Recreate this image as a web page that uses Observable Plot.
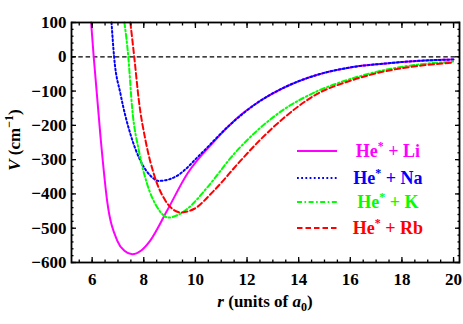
<!DOCTYPE html>
<html><head><meta charset="utf-8">
<script src="https://cdn.jsdelivr.net/npm/d3@7"></script>
<script src="https://cdn.jsdelivr.net/npm/@observablehq/plot@0.6"></script>
<style>
body{margin:0;background:#fff}
#chart{position:relative;width:463px;height:324px}
#chart svg{position:absolute;left:0;top:0}
</style>
</head><body><div id="chart"></div>
<script>
// ---- data ----
const seriesNames = ["He* + Li", "He* + Na", "He* + K", "He* + Rb"];
const seriesColors = ["#ff00ff", "#0000ff", "#00ff00", "#ff0000"];
const seriesDash = [null, "1.8,2.4", "5,2.5,1.6,2.5", "5.5,3"];

const liR = [5.96, 6.06, 6.32, 6.58, 6.97, 7.25, 7.55, 7.9, 8.25, 8.9, 9.68, 10.71, 11.75, 12.5, 13.4, 14.7, 16, 17.3, 18.6, 20];
const liV = [100, 0, -230, -420, -536, -566, -576, -565, -536, -449, -342, -248, -170, -129, -91, -53, -31, -20, -12, -8];

const naR = [6.75, 6.85, 7.1, 7.48, 7.87, 8.26, 8.58, 9.0, 9.29, 10.2, 11.23, 12.5, 13.4, 14.7, 16, 17.3, 18.6, 20];
const naV = [100, 0, -109, -225, -303, -347, -362, -357, -347, -284, -206, -129, -91, -53, -31, -20, -12, -8];

const kR = [7.25, 7.4, 7.55, 7.81, 8.13, 8.52, 8.97, 9.3, 9.68, 10.46, 11.49, 12.5, 13.4, 14.7, 16, 17.3, 18.6, 20];
const kV = [100, 0, -150, -274, -371, -439, -469, -462, -444, -381, -284, -208, -155, -101, -65, -39, -23, -14];

const rbR = [7.48, 7.63, 7.81, 8.07, 8.39, 8.84, 9.15, 9.42, 9.94, 10.71, 11.75, 12.5, 13.4, 14.7, 16, 17.3, 18.6, 20];
const rbV = [100, 0, -128, -245, -342, -420, -446, -454, -444, -391, -303, -243, -180, -109, -70, -43, -27, -17];

const xTicks = [6, 8, 10, 12, 14, 16, 18, 20];
const yTicks = [-600, -500, -400, -300, -200, -100, 0, 100];

// ---- build ----
const allR = [liR, naR, kR, rbR];
const allV = [liV, naV, kV, rbV];
const series = seriesNames.map((name, i) =>
  allR[i].map((r, j) => ({series: name, r, v: allV[i][j]})));

const xMinor = d3.range(5.5, 20.01, 0.5);
const yMinor = d3.range(-600, 100.1, 20);
const fmt = d => d < 0 ? "\u2212" + Math.abs(d) : String(d);
const noLab = {label: null, text: null};

const marks = [
  Plot.ruleY([0], {stroke: "black", strokeWidth: 1.3, strokeDasharray: "4.5,2.8"}),
  ...series.map((data, i) => Plot.line(data, {
    x: "r", y: "v", stroke: seriesColors[i], strokeWidth: 2,
    strokeDasharray: seriesDash[i], curve: "monotone-x"
  })),
  // labels
  Plot.axisX({ticks: xTicks, tickSize: 0, tickPadding: 10, label: null, tickFormat: fmt}),
  Plot.axisY({ticks: yTicks, tickSize: 0, tickPadding: 5, label: null, tickFormat: fmt}),
  // inward ticks, all four sides
  Plot.axisX({...noLab, ticks: xMinor, tickSize: -2.5, strokeWidth: 1.3}),
  Plot.axisX({...noLab, ticks: xTicks, tickSize: -5, strokeWidth: 1.3}),
  Plot.axisX({...noLab, anchor: "top", ticks: xMinor, tickSize: -2.5, strokeWidth: 1.3}),
  Plot.axisX({...noLab, anchor: "top", ticks: xTicks, tickSize: -5, strokeWidth: 1.3}),
  Plot.axisY({...noLab, ticks: yMinor, tickSize: -2.5, strokeWidth: 1.3}),
  Plot.axisY({...noLab, ticks: yTicks, tickSize: -5, strokeWidth: 1.3}),
  Plot.axisY({...noLab, anchor: "right", ticks: yMinor, tickSize: -2.5, strokeWidth: 1.3}),
  Plot.axisY({...noLab, anchor: "right", ticks: yTicks, tickSize: -5, strokeWidth: 1.3}),
  Plot.frame({stroke: "black", strokeWidth: 1.8})
];

const plot = Plot.plot({
  width: 463, height: 324,
  marginLeft: 71, marginRight: 4, marginTop: 22, marginBottom: 62,
  x: {domain: [5.2, 20.23]},
  y: {domain: [-600, 100]},
  style: {fontFamily: "'Liberation Serif', 'DejaVu Serif', serif", fontWeight: "bold", fontSize: "17px", background: "white", color: "black"},
  marks
});
document.getElementById("chart").appendChild(plot);

// ---- axis titles (rich text) ----
const svg = d3.select(plot);
const font = "'Liberation Serif', 'DejaVu Serif', serif";
const xl = svg.append("text")
  .attr("x", 265).attr("y", 307).attr("text-anchor", "middle")
  .attr("font-family", font).attr("font-weight", "bold").attr("font-size", 17).attr("fill", "black");
xl.append("tspan").attr("font-style", "italic").text("r");
xl.append("tspan").text(" (units of ");
xl.append("tspan").attr("font-style", "italic").text("a");
xl.append("tspan").attr("font-size", 12).attr("dy", 4).text("0");
xl.append("tspan").attr("dy", -4).text(")");

const yl = svg.append("text")
  .attr("transform", "translate(20,140) rotate(-90)").attr("text-anchor", "middle")
  .attr("font-family", font).attr("font-weight", "bold").attr("font-size", 17).attr("fill", "black");
yl.append("tspan").attr("font-style", "italic").text("V");
yl.append("tspan").text(" (cm");
yl.append("tspan").attr("font-size", 12).attr("dy", -7).text("\u22121");
yl.append("tspan").attr("dy", 7).text(")");

// ---- legend overlay ----
const leg = d3.select("#chart").append("svg")
  .attr("width", 463).attr("height", 324).style("pointer-events", "none");
const rowY = [151, 178, 202, 228];
seriesNames.forEach((name, i) => {
  const y = rowY[i];
  leg.append("line").attr("x1", 297).attr("x2", 337).attr("y1", y).attr("y2", y)
    .attr("stroke", seriesColors[i]).attr("stroke-width", 2)
    .attr("stroke-dasharray", seriesDash[i]);
  const t = leg.append("text").attr("x", 388).attr("y", y + 6).attr("text-anchor", "middle")
    .attr("font-family", font).attr("font-weight", "bold").attr("font-size", 18)
    .attr("fill", seriesColors[i]);
  const [a, b] = name.split("*");
  t.append("tspan").text(a);
  t.append("tspan").attr("font-size", 12).attr("dy", -7).text("*");
  t.append("tspan").attr("dy", 7).text(b);
});
</script>
</body></html>
